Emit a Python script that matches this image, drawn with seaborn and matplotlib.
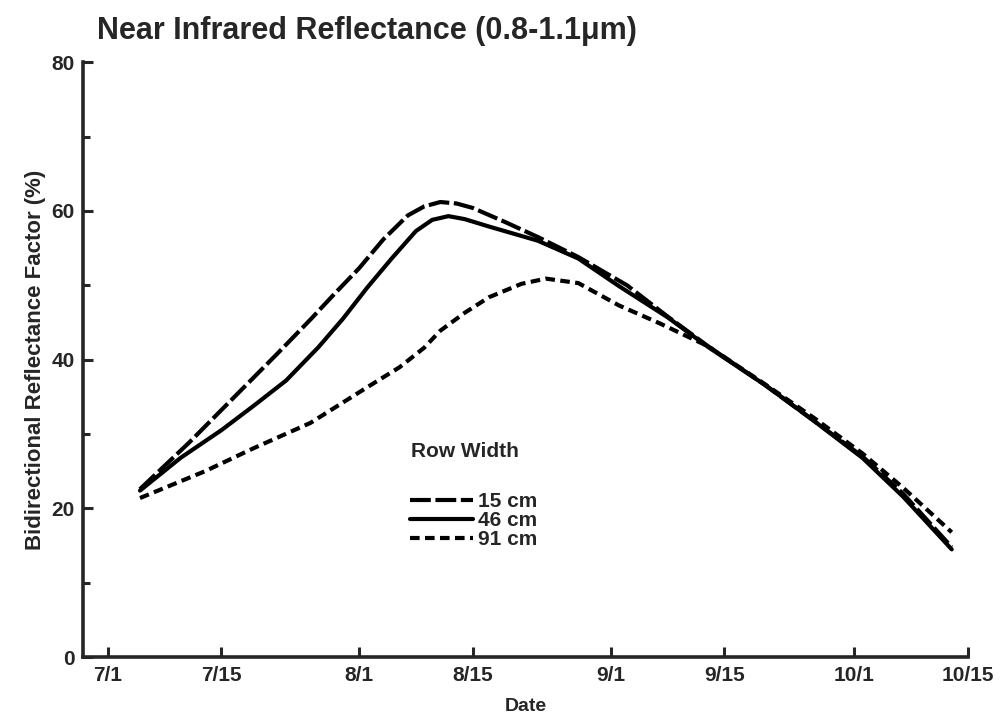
import matplotlib
matplotlib.use("Agg")
import matplotlib.pyplot as plt
import seaborn as sns
import pandas as pd

# values (month-day, bidirectional reflectance factor %)
dates_15 = ["07-05", "07-08", "07-11", "07-15", "07-19", "07-22", "07-26", "07-29",
            "08-01", "08-04", "08-07", "08-09", "08-11", "08-13", "08-15", "08-19",
            "08-23", "08-28", "09-03", "09-08", "09-13", "09-20", "09-26", "10-02",
            "10-07", "10-13"]
nir_15 = [22.6, 25.7, 28.8, 33.2, 37.6, 40.9, 45.4, 48.9,
          52.3, 56.2, 59.4, 60.6, 61.2, 61.0, 60.4, 58.5,
          56.5, 53.8, 50.0, 45.8, 41.8, 36.6, 31.8, 27.0,
          22.0, 14.8]

dates_46 = ["07-05", "07-10", "07-15", "07-19", "07-23", "07-27", "07-30", "08-02",
            "08-05", "08-08", "08-10", "08-12", "08-14", "08-17", "08-23", "08-28",
            "09-02", "09-08", "09-13", "09-20", "09-26", "10-02", "10-07", "10-13"]
nir_46 = [22.4, 26.8, 30.5, 33.8, 37.2, 41.7, 45.5, 49.7,
          53.6, 57.3, 58.8, 59.3, 58.9, 57.9, 56.0, 53.6,
          49.9, 45.7, 41.7, 36.6, 31.8, 26.8, 21.6, 14.5]

dates_91 = ["07-05", "07-09", "07-13", "07-19", "07-26", "08-02", "08-06", "08-09",
            "08-11", "08-14", "08-17", "08-21", "08-24", "08-28", "09-02", "09-07",
            "09-13", "09-20", "09-26", "10-02", "10-07", "10-13"]
nir_91 = [21.4, 23.2, 25.0, 28.1, 31.5, 36.3, 39.0, 41.6,
          43.9, 46.3, 48.4, 50.2, 50.9, 50.3, 47.3, 44.9,
          41.8, 36.7, 32.2, 27.4, 22.8, 16.8]

row_widths = ["15 cm", "46 cm", "91 cm"]
tick_dates = ["07-01", "07-15", "08-01", "08-15", "09-01", "09-15", "10-01", "10-15"]
tick_labels = ["7/1", "7/15", "8/1", "8/15", "9/1", "9/15", "10/1", "10/15"]

YEAR = "1980-"

frames = []
for rw, d, v in zip(row_widths, [dates_15, dates_46, dates_91], [nir_15, nir_46, nir_91]):
    frames.append(pd.DataFrame({"date": pd.to_datetime([YEAR + s for s in d]),
                                "nir": v, "row": rw}))
df = pd.concat(frames, ignore_index=True)

sns.set_style("ticks")
plt.rcParams["font.family"] = ["Liberation Sans", "DejaVu Sans"]
plt.rcParams["font.weight"] = "bold"

fig = plt.figure(figsize=(10.02, 7.23), dpi=100)
ax = fig.add_axes([0.083, 0.091, 0.883, 0.823])

sns.lineplot(data=df, x="date", y="nir", hue="row", style="row",
             palette=["black"] * 3,
             dashes={"15 cm": (5, 1.1), "46 cm": "", "91 cm": (2.3, 1.3)},
             linewidth=3.0, ax=ax, legend=True, sort=False)

ax.set_xlim(pd.Timestamp(YEAR + "06-28"), pd.Timestamp(YEAR + "10-15"))
ax.set_ylim(0, 80)
ax.set_xticks(pd.to_datetime([YEAR + s for s in tick_dates]))
ax.set_xticklabels(tick_labels)
ax.set_yticks([0, 20, 40, 60, 80])
ax.set_yticks([10, 30, 50, 70], minor=True)
ax.tick_params(axis="both", which="major", direction="in", length=7, width=2.2,
               labelsize=15, pad=6)
ax.tick_params(axis="y", which="minor", direction="in", length=5, width=2.2)
for lab in ax.get_xticklabels() + ax.get_yticklabels():
    lab.set_fontweight("bold")

sns.despine(ax=ax)
for s in ["left", "bottom"]:
    ax.spines[s].set_linewidth(2.6)

ax.set_xlabel("Date", fontsize=14, fontweight="bold", labelpad=10)
ax.set_ylabel("Bidirectional Reflectance Factor (%)", fontsize=16, fontweight="bold", labelpad=4)
fig.text(0.097, 0.957, "Near Infrared Reflectance (0.8-1.1\u03bcm)", fontsize=22,
         fontweight="bold", ha="left", va="center")

ax.text(0.371, 0.345, "Row Width", transform=ax.transAxes, fontsize=15,
        fontweight="bold", ha="left", va="center")
handles, labels = ax.get_legend_handles_labels()
leg = ax.legend(handles, labels, frameon=False,
                loc="center left", bbox_to_anchor=(0.36, 0.23), borderaxespad=0,
                fontsize=15, handlelength=3.0, handletextpad=0.25, labelspacing=0.0)
for t in leg.get_texts():
    t.set_fontweight("bold")

fig.savefig("out.png", dpi=100)
